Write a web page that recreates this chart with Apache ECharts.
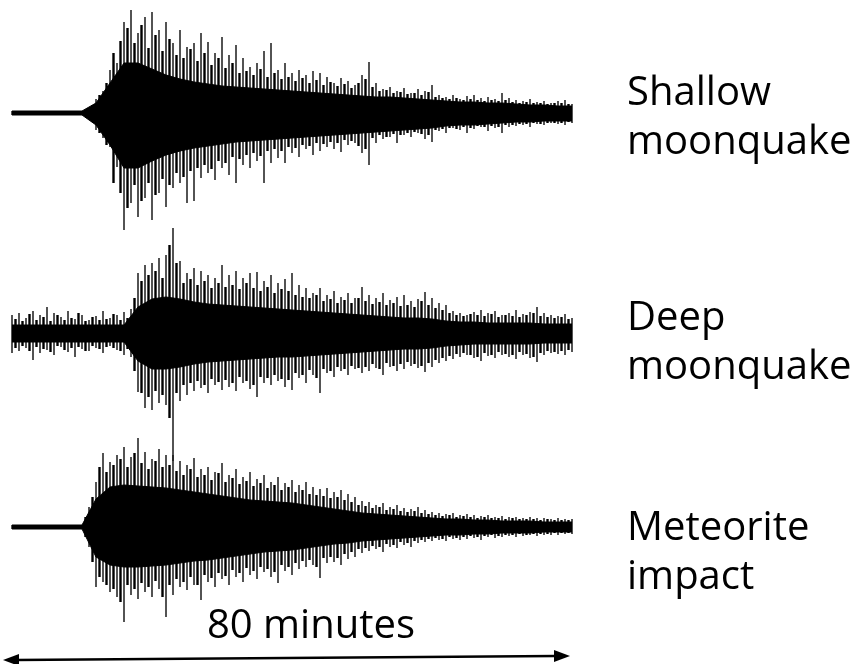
<!DOCTYPE html>
<html>
<head>
<meta charset="utf-8">
<script src="https://cdn.jsdelivr.net/npm/echarts@6/dist/echarts.min.js"></script>
<style>
  html, body { margin: 0; padding: 0; background: #fff; }
  #chart { width: 863px; height: 664px; }
</style>
</head>
<body>
<div id="chart"></div>
<script>
// big spikes, one per minute (0..80); amplitude in px above / below the trace baseline
var shallowHi = [2,2,2,2,2,2,2,2,2,2,2,2,14,22,43,50,91,103,80,96,101,83,91,70,83,66,70,80,71,60,76,58,68,55,46,50,62,70,43,50,40,43,38,42,40,36,30,35,32,28,38,51,30,24,26,22,25,20,24,22,28,18,16,18,14,17,18,15,16,14,20,15,13,12,14,11,12,10,12,13,9];
var shallowLo = [-2,-2,-2,-2,-2,-2,-2,-2,-2,-2,-2,-2,-17,-25,-34,-54,-117,-90,-104,-85,-107,-80,-94,-75,-70,-90,-88,-65,-60,-67,-55,-62,-70,-52,-55,-48,-70,-50,-45,-50,-40,-44,-36,-42,-38,-34,-36,-39,-32,-30,-40,-52,-30,-26,-24,-30,-22,-24,-20,-26,-29,-18,-20,-15,-17,-20,-16,-14,-18,-15,-20,-14,-13,-12,-14,-11,-12,-10,-11,-12,-10];
var deepHi = [18,20,15,22,18,26,20,16,22,14,18,13,17,22,15,18,21,24,60,68,70,75,78,105,72,60,65,62,58,55,68,58,62,55,60,61,52,58,50,54,60,48,45,40,45,38,42,36,40,35,46,38,35,40,33,36,38,32,34,41,35,30,28,22,20,18,21,23,20,22,18,20,23,19,21,26,20,18,17,19,15];
var deepLo = [-20,-18,-15,-27,-20,-17,-22,-14,-19,-24,-16,-18,-15,-20,-13,-17,-22,-24,-59,-75,-77,-70,-72,-128,-68,-62,-58,-55,-60,-52,-57,-54,-58,-50,-56,-64,-50,-52,-48,-54,-57,-45,-50,-42,-60,-40,-44,-38,-42,-36,-40,-38,-35,-42,-34,-38,-36,-33,-35,-39,-34,-30,-28,-26,-24,-22,-25,-28,-23,-25,-22,-24,-26,-22,-25,-29,-22,-20,-21,-22,-19];
var meteorHi = [2,2,2,2,2,2,2,2,2,2,2,20,45,74,65,72,80,70,89,75,68,78,72,72,66,62,69,58,60,55,64,52,58,50,55,48,52,45,50,44,47,42,45,40,38,39,35,37,33,30,26,25,22,24,20,22,19,18,20,17,15,14,13,14,12,13,12,11,12,10,11,10,10,9,10,9,9,8,9,8,8];
var meteorLo = [-2,-2,-2,-2,-2,-2,-2,-2,-2,-2,-2,-20,-60,-55,-65,-70,-95,-68,-72,-65,-70,-62,-90,-68,-60,-63,-58,-73,-55,-60,-52,-58,-50,-55,-48,-52,-45,-50,-56,-44,-48,-42,-40,-38,-51,-36,-35,-38,-32,-30,-26,-24,-22,-25,-20,-21,-18,-20,-16,-15,-14,-13,-14,-12,-13,-12,-11,-13,-10,-11,-10,-9,-10,-9,-8,-9,-8,-8,-8,-7,-7];

// smaller spikes between them, at the half minutes (0.5..79.5)
var shallowMidHi = [2,2,2,2,2,2,2,2,2,2,2,8,18,30,60,72,85,70,88,65,78,62,74,58,55,64,52,60,48,55,45,50,40,42,38,44,36,40,34,36,32,35,30,33,28,31,27,29,25,30,34,26,22,23,20,21,19,20,18,21,16,15,14,15,13,14,13,12,13,12,13,11,10,11,10,10,9,10,10,9];
var shallowMidLo = [-2,-2,-2,-2,-2,-2,-2,-2,-2,-2,-2,-9,-20,-32,-70,-80,-95,-72,-88,-70,-82,-66,-72,-60,-64,-58,-55,-52,-56,-48,-50,-44,-46,-42,-40,-43,-38,-36,-38,-34,-35,-32,-33,-30,-31,-29,-30,-27,-28,-33,-36,-25,-22,-24,-21,-22,-20,-19,-21,-22,-17,-16,-15,-16,-14,-15,-13,-14,-13,-14,-12,-12,-11,-11,-10,-11,-10,-10,-10,-9];
var deepMidHi = [14,12,19,13,16,12,18,13,15,20,12,16,13,14,19,13,15,35,52,58,62,55,88,70,50,54,48,52,45,50,46,48,44,50,45,42,46,40,44,42,38,36,35,38,32,34,30,33,30,35,32,29,31,28,30,27,28,26,32,28,25,23,20,18,17,19,18,17,19,16,18,17,16,18,20,17,16,15,16,14];
var deepMidLo = [-15,-13,-18,-14,-16,-19,-13,-17,-15,-14,-18,-13,-16,-14,-15,-18,-16,-38,-60,-64,-58,-62,-85,-60,-52,-50,-48,-52,-46,-49,-47,-50,-44,-48,-52,-44,-45,-42,-46,-47,-40,-42,-37,-45,-36,-38,-34,-36,-33,-35,-34,-31,-36,-30,-33,-31,-29,-31,-33,-30,-27,-25,-23,-21,-20,-22,-24,-20,-22,-19,-21,-22,-19,-21,-24,-20,-18,-19,-18,-17];
var meteorMidHi = [2,2,2,2,2,2,2,2,2,2,10,30,60,55,62,68,60,74,64,58,66,60,62,56,52,58,50,52,47,54,45,49,43,46,41,44,39,42,37,40,35,37,33,32,31,29,30,27,25,22,21,19,20,17,18,16,15,16,14,13,12,11,12,10,11,10,9,10,9,9,8,9,8,8,8,7,8,7,7,7];
var meteorMidLo = [-2,-2,-2,-2,-2,-2,-2,-2,-2,-2,-10,-35,-50,-58,-62,-75,-58,-62,-56,-60,-54,-70,-58,-52,-55,-50,-58,-48,-51,-46,-49,-43,-46,-41,-44,-40,-42,-45,-38,-40,-36,-34,-33,-40,-31,-30,-31,-27,-25,-22,-21,-19,-20,-17,-18,-15,-16,-14,-13,-12,-11,-12,-10,-11,-10,-9,-10,-9,-8,-9,-8,-8,-7,-8,-7,-7,-7,-6,-6,-6];

// solid core of each trace, one sample every 2 minutes (0..80)
var shallowCoreHi = [2,2,2,2,2,2,10,30,50,50,44,38,34,31,29,27,26,25,24,23,22,21,20,19,18,17,16,16,15,14,13,12,11,11,10,10,9,8,8,7,7];
var shallowCoreLo = [-2,-2,-2,-2,-2,-2,-12,-32,-55,-55,-48,-42,-38,-35,-33,-31,-29,-28,-27,-26,-25,-24,-23,-22,-21,-20,-19,-18,-17,-16,-15,-13,-12,-12,-11,-10,-9,-9,-8,-8,-8];
var deepCoreHi = [8,8,8,8,8,8,8,8,8,26,34,36,34,31,29,28,27,26,25,24,23,22,21,20,19,18,17,16,15,15,14,12,11,11,10,10,10,10,9,9,9];
var deepCoreLo = [-9,-9,-9,-9,-9,-9,-9,-9,-9,-28,-36,-36,-34,-31,-29,-28,-27,-26,-25,-24,-24,-23,-22,-21,-20,-19,-18,-17,-16,-16,-15,-13,-12,-11,-11,-11,-11,-11,-10,-10,-10];
var meteorCoreHi = [2,2,2,2,2,2,28,40,42,41,40,39,37,35,33,31,29,27,26,25,24,22,20,18,16,14,13,12,11,10,9,8,8,7,7,6,6,6,5,5,5];
var meteorCoreLo = [-2,-2,-2,-2,-2,-2,-30,-38,-40,-40,-39,-38,-36,-34,-33,-31,-29,-27,-25,-24,-23,-21,-19,-17,-16,-14,-13,-12,-11,-10,-9,-8,-8,-7,-7,-6,-6,-6,-5,-5,-5];

var labels = [['Shallow', 'moonquake'], ['Deep', 'moonquake'], ['Meteorite', 'impact']];
var spanLabel = '80 minutes';

var chart = echarts.init(document.getElementById('chart'));

function spikes(hi, lo, offset) {
  return hi.map(function (v, i) { return [i + offset, v, lo[i]]; });
}
function core(arr) {
  return arr.map(function (v, i) { return [i * 2, v]; });
}
function spikeRenderer(width, color) {
  return function (params, api) {
    var a = api.coord([api.value(0), api.value(1)]);
    var b = api.coord([api.value(0), api.value(2)]);
    return {
      type: 'line',
      shape: { x1: a[0], y1: a[1], x2: b[0], y2: b[1] },
      style: { stroke: color, lineWidth: width }
    };
  };
}

var traces = [
  { hi: shallowHi, lo: shallowLo, mHi: shallowMidHi, mLo: shallowMidLo, cHi: shallowCoreHi, cLo: shallowCoreLo },
  { hi: deepHi, lo: deepLo, mHi: deepMidHi, mLo: deepMidLo, cHi: deepCoreHi, cLo: deepCoreLo },
  { hi: meteorHi, lo: meteorLo, mHi: meteorMidHi, mLo: meteorMidLo, cHi: meteorCoreHi, cLo: meteorCoreLo }
];

var grids = [
  { left: 12, width: 560, top: 3, height: 230 },
  { left: 12, width: 560, top: 223, height: 240 },
  { left: 12, width: 560, top: 427, height: 200 }
];
var yRanges = [[-120, 110], [-130, 110], [-100, 100]];

var xAxes = [], yAxes = [], series = [];
traces.forEach(function (tr, k) {
  xAxes.push({ gridIndex: k, type: 'value', min: 0, max: 80, show: false });
  yAxes.push({ gridIndex: k, type: 'value', min: yRanges[k][0], max: yRanges[k][1], show: false });
  [tr.cHi, tr.cLo].forEach(function (arr) {
    series.push({
      type: 'line',
      xAxisIndex: k, yAxisIndex: k,
      data: core(arr),
      symbol: 'none',
      silent: true,
      lineStyle: { color: '#000', width: 1 },
      areaStyle: { color: '#000', opacity: 1 }
    });
  });
  series.push({
    type: 'custom',
    xAxisIndex: k, yAxisIndex: k,
    data: spikes(tr.mHi, tr.mLo, 0.5),
    encode: { x: 0, y: [1, 2] },
    silent: true,
    renderItem: spikeRenderer(2.4, '#000')
  });
  series.push({
    type: 'custom',
    xAxisIndex: k, yAxisIndex: k,
    data: spikes(tr.hi, tr.lo, 0),
    encode: { x: 0, y: [1, 2] },
    silent: true,
    renderItem: spikeRenderer(1.5, '#1a1a1a')
  });
});

var graphics = [];
var baseY = [[94, 143], [319, 368], [529, 578]];
labels.forEach(function (pair, k) {
  pair.forEach(function (txt, j) {
    graphics.push({
      type: 'text',
      left: 627,
      top: baseY[k][j] - 20,
      style: { text: txt, font: '40px "Open Sans"', fill: '#000' }
    });
  });
});

graphics.push({
  type: 'text',
  x: 311, y: 627,
  style: { text: spanLabel, font: '40px "Open Sans"', fill: '#000', align: 'center', verticalAlign: 'middle' }
});
graphics.push({
  type: 'line',
  shape: { x1: 16, y1: 660, x2: 556, y2: 656 },
  style: { stroke: '#000', lineWidth: 2.5 }
});
graphics.push({
  type: 'polygon',
  shape: { points: [[3, 660], [19, 654], [19, 666]] },
  style: { fill: '#000' }
});
graphics.push({
  type: 'polygon',
  shape: { points: [[570, 656], [554, 650], [554, 662]] },
  style: { fill: '#000' }
});

chart.setOption({
  animation: false,
  backgroundColor: '#fff',
  grid: grids,
  xAxis: xAxes,
  yAxis: yAxes,
  series: series,
  graphic: graphics
});
</script>
</body>
</html>
